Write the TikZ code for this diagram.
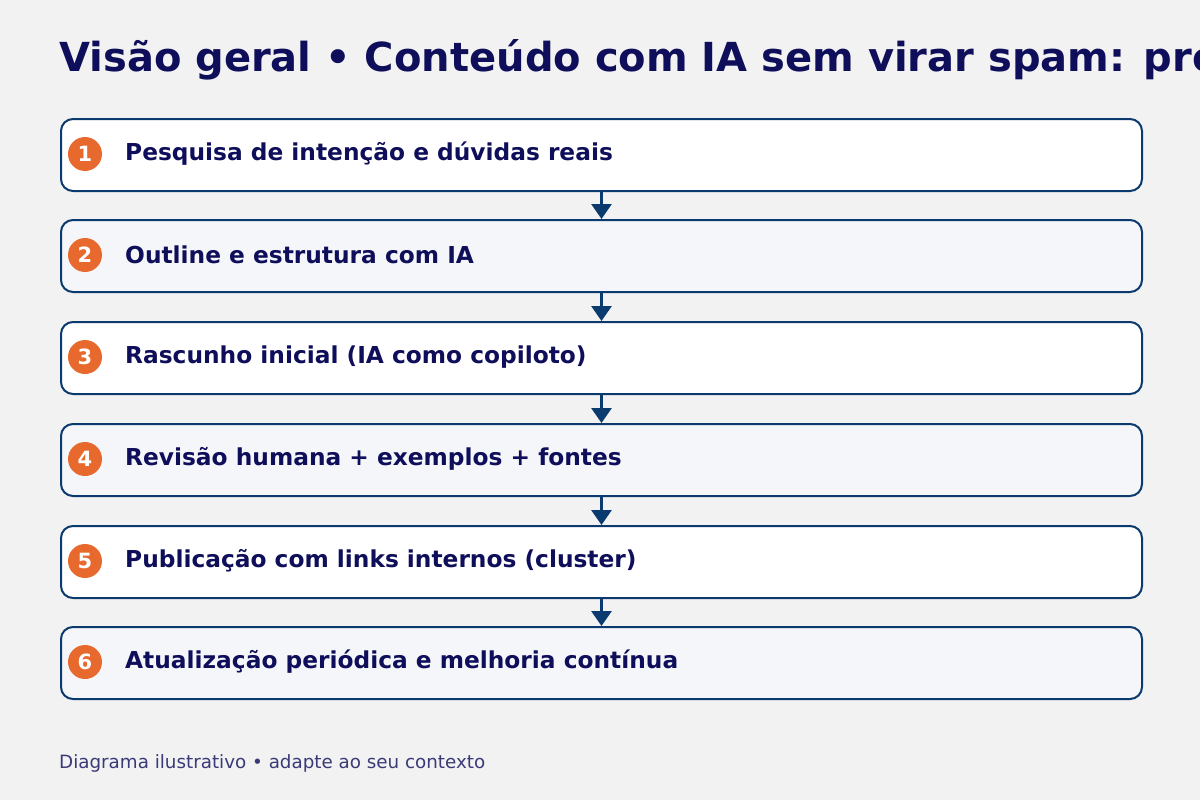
\documentclass[tikz,border=0pt]{standalone}
\usepackage{fontspec}
\setmainfont{DejaVu Sans}
\usetikzlibrary{arrows.meta}
\definecolor{bg}{HTML}{F2F2F2}
\definecolor{navy}{HTML}{0E0E5A}
\definecolor{edge}{HTML}{0B3A6E}
\definecolor{alt}{HTML}{F5F6F9}
\definecolor{badge}{HTML}{E8692E}
\definecolor{foot}{HTML}{3A3A78}
\tikzset{
  stepbox/.style={draw=edge, line width=2pt, rounded corners=12pt, minimum width=1081pt, minimum height=72pt, anchor=north west, inner sep=0pt},
  steptext/.style={anchor=west, text=navy, font=\fontsize{23.3}{27}\selectfont\bfseries, inner sep=0pt},
  badgenode/.style={circle, fill=badge, minimum size=34pt, inner sep=0pt, text=white, font=\fontsize{21}{24}\selectfont\bfseries},
  flow/.style={draw=edge, line width=3pt, -{Triangle[width=20pt,length=15pt]}, shorten <=-1pt}
}
\begin{document}
\begin{tikzpicture}[x=1pt,y=-1pt]
\useasboundingbox (0,0) rectangle (1200,800);
\clip (0,0) rectangle (1200,800);
\fill[bg] (0,0) rectangle (1200,800);
\node[anchor=base west, text=navy, font=\fontsize{40}{48}\selectfont\bfseries, inner sep=0pt] (title) at (59,71) {Visão geral • Conteúdo com IA sem virar spam: processo};
\foreach \i/\y/\f/\t in {1/118/white/Pesquisa de intenção e dúvidas reais,
                         2/219/alt/Outline e estrutura com IA,
                         3/321/white/Rascunho inicial (IA como copiloto),
                         4/423/alt/Revisão humana + exemplos + fontes,
                         5/525/white/Publicação com links internos (cluster),
                         6/626/alt/Atualização periódica e melhoria contínua} {
  \node[stepbox, fill=\f] (b\i) at (60,\y) {};
  \node[badgenode] (c\i) at (85,\y+36) {\i};
  \node[steptext] (t\i) at (125,\y+36) {\t};
}
\foreach \a/\b in {1/2,2/3,3/4,4/5,5/6} {
  \draw[flow] (b\a.south) -- (b\b.north);
}
\node[anchor=base west, text=foot, font=\fontsize{18.3}{22}\selectfont, inner sep=0pt] (footer) at (59,768) {Diagrama ilustrativo • adapte ao seu contexto};
\end{tikzpicture}
\end{document}
